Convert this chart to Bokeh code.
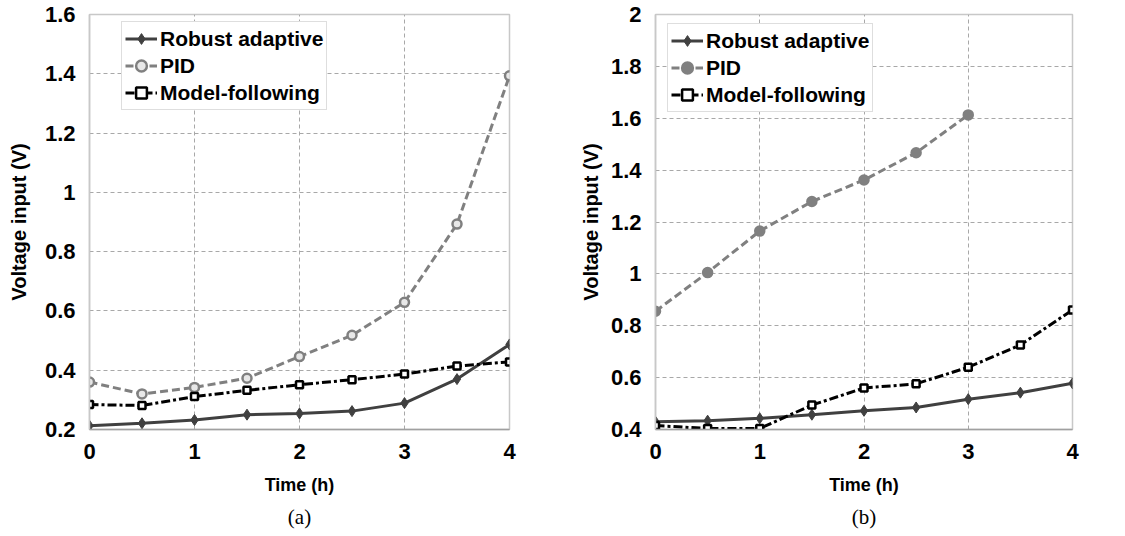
from bokeh.plotting import figure
from bokeh.layouts import row
from bokeh.models import FixedTicker, Range1d, Title
from bokeh.embed import file_html
from bokeh.resources import INLINE

time = [0, 0.5, 1, 1.5, 2, 2.5, 3, 3.5, 4]
a_robust = [0.213, 0.221, 0.232, 0.250, 0.254, 0.262, 0.289, 0.370, 0.487]
a_pid = [0.360, 0.320, 0.342, 0.373, 0.446, 0.518, 0.629, 0.893, 1.393]
a_model = [0.284, 0.281, 0.311, 0.332, 0.351, 0.368, 0.387, 0.414, 0.428]

b_robust = [0.430, 0.434, 0.443, 0.457, 0.472, 0.485, 0.517, 0.542, 0.578]
b_pid_time = [0, 0.5, 1, 1.5, 2, 2.5, 3]
b_pid = [0.856, 1.005, 1.165, 1.279, 1.362, 1.467, 1.613]
b_model = [0.415, 0.404, 0.404, 0.494, 0.560, 0.576, 0.640, 0.726, 0.861]

x_ticks = [0, 1, 2, 3, 4]
a_yticks = [0.2, 0.4, 0.6, 0.8, 1.0, 1.2, 1.4, 1.6]
a_ylabels = ["0.2", "0.4", "0.6", "0.8", "1", "1.2", "1.4", "1.6"]
b_yticks = [0.4, 0.6, 0.8, 1.0, 1.2, 1.4, 1.6, 1.8, 2.0]
b_ylabels = ["0.4", "0.6", "0.8", "1", "1.2", "1.4", "1.6", "1.8", "2"]

FONT = "Liberation Sans"
ROBUST_C = "#404040"
PID_C = "#808080"
MODEL_C = "#000000"


def make_fig(width, bl, br, bt, bb, ymin, ymax, yticks, ylabels, caption, ylab_standoff):
    p = figure(width=width, height=536, output_backend="svg", toolbar_location=None,
               x_range=Range1d(0, 4), y_range=Range1d(ymin, ymax),
               min_border_left=bl, min_border_right=br, min_border_top=bt,
               min_border_bottom=bb)
    p.outline_line_color = "#c8c8c8"
    p.outline_line_width = 1.5
    p.xaxis.ticker = FixedTicker(ticks=x_ticks)
    p.yaxis.ticker = FixedTicker(ticks=yticks)
    p.yaxis.major_label_overrides = {t: l for t, l in zip(yticks, ylabels)}
    p.xaxis.major_label_overrides = {t: str(t) for t in x_ticks}
    for ax in (p.xaxis, p.yaxis):
        ax.major_tick_line_color = None
        ax.minor_tick_line_color = None
        ax.major_label_text_font = FONT
        ax.major_label_text_font_style = "bold"
        ax.major_label_text_font_size = "22px"
        ax.major_label_text_color = "#000000"
        ax.axis_label_text_font = FONT
        ax.axis_label_text_font_style = "bold"
        ax.axis_label_text_color = "#000000"
    p.xaxis.axis_label_text_font_size = "18px"
    p.yaxis.axis_label_text_font_size = "20px"
    p.xaxis.axis_line_color = "#a0a0a0"
    p.xaxis.axis_line_width = 1.5
    p.yaxis.axis_line_color = "#c8c8c8"
    p.yaxis.axis_line_width = 1.5
    p.xaxis.major_label_standoff = 8
    p.yaxis.major_label_standoff = 8
    p.xaxis.axis_label = "Time (h)"
    p.yaxis.axis_label = "Voltage input (V)"
    p.xaxis.axis_label_standoff = 13
    p.yaxis.axis_label_standoff = ylab_standoff
    for g in (p.xgrid, p.ygrid):
        g.grid_line_color = "#a8a8a8"
        g.grid_line_dash = "4 3"
        g.grid_line_width = 1
    cap = Title(text=caption, align="center", text_font="Liberation Serif",
                text_font_style="normal", text_font_size="21px", text_color="#000000",
                standoff=10)
    p.add_layout(cap, "below")
    return p


def add_series(p, rob, pid_t, pid, model, pid_fill):
    p.line(time, rob, line_color=ROBUST_C, line_width=3, legend_label="Robust adaptive")
    p.scatter(time, rob, marker="diamond", size=11, fill_color=ROBUST_C,
              line_color=ROBUST_C, legend_label="Robust adaptive")
    p.line(pid_t, pid, line_color=PID_C, line_width=3, line_dash="8 4", legend_label="PID")
    p.scatter(pid_t, pid, marker="circle", size=9, fill_color=pid_fill,
              line_color=PID_C, line_width=2.5, legend_label="PID")
    p.line(time, model, line_color=MODEL_C, line_width=3, line_dash="9 3 3 3",
           legend_label="Model-following")
    p.scatter(time, model, marker="square", size=7, fill_color="white",
              line_color=MODEL_C, line_width=2.5, legend_label="Model-following")


def style_legend(p, loc):
    lg = p.legend[0]
    lg.location = loc
    lg.label_text_font = FONT
    lg.label_text_font_style = "bold"
    lg.label_text_font_size = "21px"
    lg.label_text_color = "#000000"
    lg.border_line_color = "#bdbdbd"
    lg.border_line_width = 1.5
    lg.background_fill_alpha = 1
    lg.padding = 3
    lg.spacing = 0
    lg.margin = 0
    lg.glyph_width = 32
    lg.glyph_height = 27
    lg.label_height = 27
    lg.label_standoff = 3
    lg.label_text_baseline = "middle"


pa = make_fig(560, 89, 51, 14, 104, 0.2, 1.6, a_yticks, a_ylabels, "(a)", 12)
add_series(pa, a_robust, time, a_pid, a_model, "#e8e8e8")
style_legend(pa, (32, 319))

pb = make_fig(565, 95, 53, 8, 107, 0.4, 2.0, b_yticks, b_ylabels, "(b)", 6)
add_series(pb, b_robust, b_pid_time, b_pid, b_model, PID_C)
style_legend(pb, (12, 317))

layout = row(pa, pb, spacing=0)
open("out.html", "w").write(file_html(layout, INLINE))
